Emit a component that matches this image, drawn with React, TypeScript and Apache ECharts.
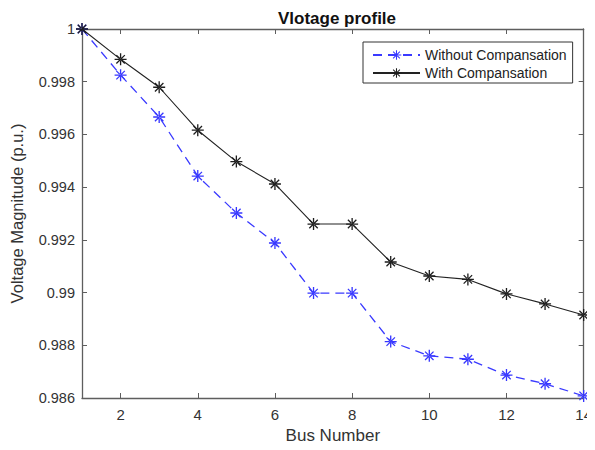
import React, { useEffect, useRef } from "react";
import * as echarts from "echarts";

const busNumbers = [1, 2, 3, 4, 5, 6, 7, 8, 9, 10, 11, 12, 13, 14];
const withoutComp = [1, 0.99825, 0.99666, 0.99442, 0.99302, 0.99188, 0.98998, 0.98998, 0.98814, 0.9876, 0.98747, 0.98687, 0.98654, 0.98608];
const withComp = [1, 0.99885, 0.99779, 0.99616, 0.99497, 0.99412, 0.9926, 0.9926, 0.99116, 0.99063, 0.9905, 0.98995, 0.98957, 0.98915];
const xTicks = [2, 4, 6, 8, 10, 12, 14];
const seriesNames = ["Without Compansation", "With Compansation"];

const STAR =
  "path://M-1.1 -10 L1.1 -10 L1.1 10 L-1.1 10 Z M-10 -1.1 L10 -1.1 L10 1.1 L-10 1.1 Z M-7.8 -6.3 L6.3 7.8 L7.8 6.3 L-6.3 -7.8 Z M7.8 -6.3 L-6.3 7.8 L-7.8 6.3 L6.3 -7.8 Z";

const FONT = "Arial, 'Liberation Sans', sans-serif";
const NARROW = "'Liberation Sans Narrow', 'Arial Narrow', Arial, 'Liberation Sans', sans-serif";

export default function App() {
  const ref = useRef<HTMLDivElement>(null);
  useEffect(() => {
    if (!ref.current) return;
    const chart = echarts.init(ref.current, undefined, { renderer: "svg" });
    const axisLine = { show: true, lineStyle: { color: "#5e5e5e", width: 1.3 } };
    const tick = { show: true, inside: true, length: 5, lineStyle: { color: "#5e5e5e" } };
    chart.setOption({
      animation: false,
      textStyle: { fontFamily: FONT },
      title: {
        text: "Vlotage profile",
        left: 332,
        top: 5,
        textAlign: "center",
        textStyle: { fontSize: 17, fontWeight: "bold", color: "#111", fontFamily: FONT },
      },
      legend: {
        orient: "vertical",
        left: 363,
        top: 42,
        align: "left",
        itemWidth: 47,
        itemHeight: 12,
        itemGap: 4,
        padding: [6, 6, 3, 9],
        borderColor: "#333",
        borderWidth: 1,
        backgroundColor: "#fff",
        textStyle: { fontSize: 14, color: "#222", fontFamily: FONT },
        data: seriesNames,
      },
      grid: { left: 77, right: 8, top: 29, bottom: 52 },
      xAxis: [
        {
          type: "value",
          min: 1,
          max: 14,
          name: "Bus Number",
          nameLocation: "middle",
          nameGap: 27,
          nameTextStyle: { fontSize: 17, color: "#333", fontFamily: FONT },
          axisLine,
          axisTick: { ...tick, customValues: xTicks },
          axisLabel: { customValues: xTicks, fontSize: 15, color: "#333", margin: 9, fontFamily: FONT },
          splitLine: { show: false },
        },
        {
          type: "value",
          position: "top",
          min: 1,
          max: 14,
          axisLine,
          axisTick: { ...tick, customValues: xTicks },
          axisLabel: { show: false, customValues: xTicks },
          splitLine: { show: false },
        },
      ],
      yAxis: [
        {
          type: "value",
          min: 0.986,
          max: 1,
          interval: 0.002,
          name: "Voltage Magnitude (p.u.)",
          nameLocation: "middle",
          nameGap: 57,
          nameTextStyle: { fontSize: 16.5, color: "#333", fontFamily: NARROW },
          axisLine,
          axisTick: tick,
          axisLabel: {
            fontSize: 14.5,
            color: "#333",
            margin: 7,
            fontFamily: FONT,
            formatter: (v: number) => String(+v.toFixed(3)),
          },
          splitLine: { show: false },
        },
        {
          type: "value",
          position: "right",
          min: 0.986,
          max: 1,
          interval: 0.002,
          axisLine,
          axisTick: tick,
          axisLabel: { show: false },
          splitLine: { show: false },
        },
      ],
      series: [
        {
          name: seriesNames[0],
          type: "line",
          data: busNumbers.map((b, i) => [b, withoutComp[i]]),
          symbol: STAR,
          symbolSize: 12,
          showAllSymbol: true,
          itemStyle: { color: "#3636ff" },
          lineStyle: { color: "#3a3aff", width: 1.3, type: [9, 6] },
          z: 3,
        },
        {
          name: seriesNames[1],
          type: "line",
          data: busNumbers.map((b, i) => [b, withComp[i]]),
          symbol: STAR,
          symbolSize: 12,
          showAllSymbol: true,
          itemStyle: { color: "#1e1e1e" },
          lineStyle: { color: "#222", width: 1.1 },
          z: 4,
        },
      ],
    });
    return () => chart.dispose();
  }, []);
  return <div ref={ref} style={{ width: 595, height: 450, margin: -8 }} />;
}
